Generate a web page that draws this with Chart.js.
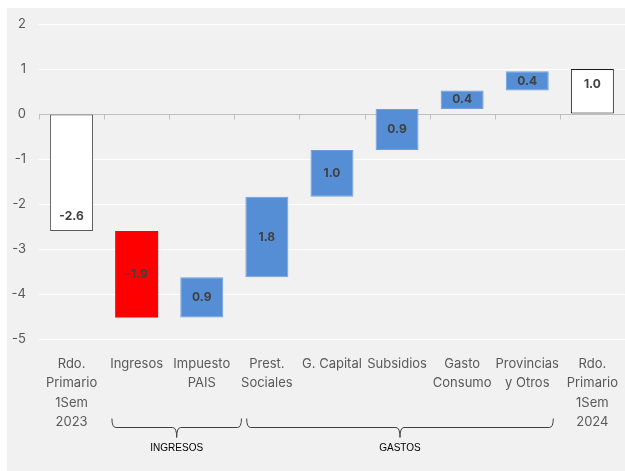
<!DOCTYPE html>
<html>
<head>
<meta charset="utf-8">
<script src="https://cdn.jsdelivr.net/npm/chart.js@4.4.1/dist/chart.umd.min.js"></script>
<style>
  body { margin: 0; background: #fff; width: 625px; height: 471px; overflow: hidden; }
  #panel { position: absolute; left: 7px; top: 8px; width: 618px; height: 463px; background: #f1f1f1; }
</style>
</head>
<body>
<div id="panel"><canvas id="chart" width="618" height="463"></canvas></div>
<script>
// data
const categories = [
  ['Rdo.', 'Primario', '1Sem', '2023'],
  'Ingresos',
  ['Impuesto', 'PAIS'],
  ['Prest.', 'Sociales'],
  'G. Capital',
  'Subsidios',
  ['Gasto', 'Consumo'],
  ['Provincias', 'y Otros'],
  ['Rdo.', 'Primario', '1Sem', '2024']
];
const barStart = [0, -2.6, -4.52, -3.63, -1.84, -0.8, 0.11, 0.52, 0];
const barEnd = [-2.6, -4.52, -3.63, -1.84, -0.8, 0.11, 0.52, 0.95, 1.0];
const valueLabels = ['-2.6', '-1.9', '0.9', '1.8', '1.0', '0.9', '0.4', '0.4', '1.0'];
const barKind = ['total', 'down', 'up', 'up', 'up', 'up', 'up', 'up', 'total'];
const yMin = -5, yMax = 2;

// category groups under the axis (in category units)
const groupNames = ['INGRESOS', 'GASTOS'];
const groupFrom = [0.62, 2.69];
const groupTo = [2.61, 7.4];

const FONT = 'Inter, "Noto Sans", sans-serif';

const fillFor = k => k === 'total' ? '#ffffff' : (k === 'down' ? '#ff0000' : '#558ed5');

const extras = {
  id: 'extras',
  beforeDatasetsDraw(chart) {
    const { ctx, chartArea } = chart;
    const x = chart.scales.x, y = chart.scales.y;
    const y0 = Math.round(y.getPixelForValue(0)) + 0.5;
    ctx.save();
    ctx.strokeStyle = '#bfbfbf';
    ctx.lineWidth = 1;
    ctx.beginPath();
    ctx.moveTo(chartArea.left, y0);
    ctx.lineTo(chartArea.right, y0);
    for (let i = 0; i <= categories.length; i++) {
      const px = Math.round(x.getPixelForValue(i - 0.5)) + 0.5;
      ctx.moveTo(px, y0);
      ctx.lineTo(px, y0 + 5);
    }
    ctx.stroke();
    ctx.restore();
  },
  afterDatasetsDraw(chart) {
    const { ctx } = chart;
    const meta = chart.getDatasetMeta(0);
    ctx.save();
    ctx.font = 'bold 12px ' + FONT;
    ctx.fillStyle = '#404040';
    ctx.textAlign = 'center';
    ctx.textBaseline = 'middle';
    meta.data.forEach((bar, i) => {
      let ty = (bar.y + bar.base) / 2;
      if (barKind[i] === 'total') {
        ty = bar.y + Math.sign(bar.base - bar.y) * 15;
      }
      ctx.fillText(valueLabels[i], bar.x, ty);
    });
    ctx.restore();
  },
  afterDraw(chart) {
    const { ctx } = chart;
    const x = chart.scales.x;
    const by = 419.5;
    ctx.save();
    ctx.strokeStyle = '#404040';
    ctx.lineWidth = 1;
    groupNames.forEach((name, g) => {
      const x1 = x.getPixelForValue(groupFrom[g]);
      const x2 = x.getPixelForValue(groupTo[g]);
      const xc = (x1 + x2) / 2;
      ctx.beginPath();
      ctx.moveTo(x1, by - 9);
      ctx.quadraticCurveTo(x1, by, x1 + 4, by);
      ctx.lineTo(xc - 4, by);
      ctx.quadraticCurveTo(xc, by, xc, by + 10);
      ctx.quadraticCurveTo(xc, by, xc + 4, by);
      ctx.lineTo(x2 - 4, by);
      ctx.quadraticCurveTo(x2, by, x2, by - 9);
      ctx.stroke();
      ctx.font = '10px "Liberation Sans", Arial, sans-serif';
      ctx.fillStyle = '#000';
      ctx.textAlign = 'center';
      ctx.textBaseline = 'middle';
      ctx.fillText(name, xc, 440);
    });
    ctx.restore();
  }
};

new Chart(document.getElementById('chart'), {
  type: 'bar',
  data: {
    labels: categories,
    datasets: [{
      data: barStart.map((s, i) => [s, barEnd[i]]),
      backgroundColor: barKind.map(fillFor),
      borderColor: ['#595959', '#ff0000', '#6f9fdc', '#6f9fdc', '#6f9fdc', '#6f9fdc', '#6f9fdc', '#6f9fdc', '#1a1a1a'],
      borderWidth: barKind.map(k => k === 'down' ? 0 : 1),
      borderSkipped: false,
      barPercentage: 0.66,
      categoryPercentage: 1
    }]
  },
  options: {
    responsive: false,
    animation: false,
    layout: { padding: { top: 16, right: 0, bottom: 0, left: 0 } },
    plugins: { legend: { display: false }, tooltip: { enabled: false } },
    scales: {
      x: {
        grid: { display: false },
        border: { display: false },
        ticks: {
          autoSkip: false,
          maxRotation: 0,
          minRotation: 0,
          padding: 7,
          color: '#595959',
          font: { family: FONT, size: 13, lineHeight: 1.5 }
        },
        afterFit(scale) { scale.height = 132; }
      },
      y: {
        min: yMin,
        max: yMax,
        grid: {
          color: c => c.tick.value === 0 ? 'rgba(0,0,0,0)' : '#ffffff',
          lineWidth: 1,
          drawTicks: false
        },
        border: { display: false },
        ticks: {
          stepSize: 1,
          padding: 13,
          color: '#595959',
          font: { family: FONT, size: 13, lineHeight: 0.4 }
        },
        afterFit(scale) { scale.width = 32; }
      }
    }
  },
  plugins: [extras]
});
</script>
</body>
</html>
